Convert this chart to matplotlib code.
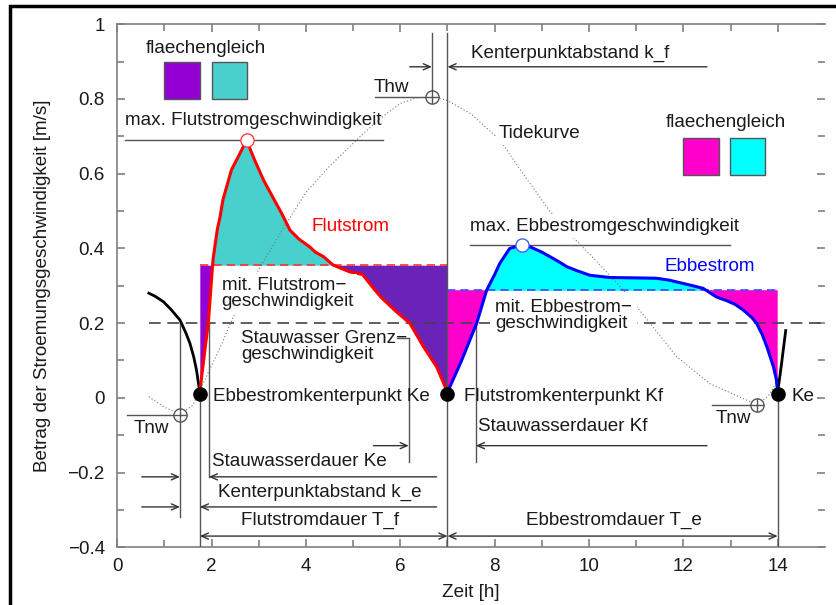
import matplotlib
matplotlib.use("Agg")
import matplotlib.pyplot as plt
from matplotlib.patches import Rectangle
import numpy as np

plt.rcParams['font.family'] = ['Liberation Sans', 'DejaVu Sans']

# Flutstrom (red)
flut_t = [1.75, 1.85, 1.93, 2.03, 2.12, 2.18, 2.24, 2.42, 2.6, 2.74, 2.9, 3.1, 3.31,
          3.5, 3.66, 3.85, 4.08, 4.2, 4.37, 4.58, 4.93, 5.2, 5.45, 5.6, 5.92, 6.2,
          6.49, 6.77, 7.0]
flut_v = [0.015, 0.12, 0.2, 0.37, 0.45, 0.485, 0.53, 0.61, 0.654, 0.69, 0.64, 0.583,
          0.534, 0.49, 0.449, 0.425, 0.404, 0.39, 0.378, 0.355, 0.337, 0.33, 0.29,
          0.268, 0.23, 0.2, 0.137, 0.083, 0.015]

# Ebbestrom (blue)
ebbe_t = [7.0, 7.3, 7.62, 7.83, 8.0, 8.11, 8.32, 8.59, 8.75, 9.0, 9.17, 9.35, 9.53,
          9.75, 10.02, 10.44, 11.0, 11.43, 11.7, 12.0, 12.2, 12.42, 12.7, 12.92, 13.1,
          13.27, 13.45, 13.55, 13.67, 13.77, 13.91, 13.97, 14.0]
ebbe_v = [0.015, 0.1, 0.2, 0.288, 0.33, 0.36, 0.4, 0.409, 0.404, 0.39, 0.378, 0.365,
          0.351, 0.34, 0.328, 0.322, 0.321, 0.32, 0.315, 0.306, 0.3, 0.293, 0.27,
          0.26, 0.25, 0.235, 0.215, 0.2, 0.17, 0.137, 0.083, 0.05, 0.015]

# preceding / following ebb current (black)
vor_t = [0.67, 0.8, 0.98, 1.15, 1.33, 1.45, 1.54, 1.62, 1.68, 1.72, 1.75]
vor_v = [0.28, 0.272, 0.257, 0.235, 0.208, 0.175, 0.146, 0.11, 0.074, 0.04, 0.015]
nach_t = [14.0, 14.08, 14.17]
nach_v = [0.015, 0.09, 0.18]

# Tidekurve (dotted)
tide_t = [0.67, 1.0, 1.33, 1.6, 1.9, 2.2, 2.46, 3.03, 3.5, 4.0, 4.5, 5.22, 5.6, 6.0,
          6.35, 6.67, 6.98, 7.5, 8.11, 8.6, 9.17, 9.74, 10.2, 10.73, 11.29, 11.86,
          12.56, 13.27, 13.57, 13.8, 14.09]
tide_v = [0.003, -0.025, -0.044, -0.02, 0.06, 0.14, 0.217, 0.35, 0.45, 0.55, 0.62,
          0.708, 0.75, 0.788, 0.803, 0.805, 0.797, 0.76, 0.69, 0.6, 0.5, 0.42, 0.36,
          0.288, 0.2, 0.11, 0.038, -0.002, -0.018, 0.005, 0.065]

flut_mittel = 0.355
ebbe_mittel = 0.288
grenz = 0.2
kenter_t = [1.75, 7.0, 14.0]
kenter_v = [0.01, 0.01, 0.01]
tnw = [(1.33, -0.045), (13.57, -0.018)]
thw = (6.67, 0.805)

grey = '#555555'
fs = 13.6

fig = plt.figure(figsize=(8.37, 6.05), dpi=100)
ax = fig.add_axes([0.1401, 0.0954, 0.8454, 0.8646])
ax.set_xlim(0, 15)
ax.set_ylim(-0.4, 1.0)

ft = np.array(flut_t); fv = np.array(flut_v)
et = np.array(ebbe_t); ev = np.array(ebbe_v)

# area fills around the mean velocities
ax.fill_between(ft, fv, flut_mittel, where=fv >= flut_mittel, interpolate=True,
                color='#48d1cc', lw=0, zorder=1)
ax.fill_between(ft, fv, flut_mittel, where=(fv <= flut_mittel) & (ft < 3),
                interpolate=True, color='#9400d3', lw=0, zorder=1)
ax.fill_between(ft, fv, flut_mittel, where=(fv <= flut_mittel) & (ft > 3),
                interpolate=True, color='#6b22b8', lw=0, zorder=1)
ax.fill_between(et, ev, ebbe_mittel, where=ev >= ebbe_mittel, interpolate=True,
                color='#00ffff', lw=0, zorder=1)
ax.fill_between(et, ev, ebbe_mittel, where=ev <= ebbe_mittel, interpolate=True,
                color='#ff00cc', lw=0, zorder=1)
ax.plot([1.75, 7.0], [flut_mittel] * 2, color='#ff3030', lw=1.2, ls=(0, (5, 3)), zorder=2)
ax.plot([7.0, 14.0], [ebbe_mittel] * 2, color='#3050ff', lw=1.2, ls=(0, (5, 3)), zorder=2)

# Stauwasser Grenzgeschwindigkeit
ax.plot([0.67, 15], [grenz, grenz], color='#444444', lw=1.2, ls=(0, (7, 4)), zorder=2)

# Tidekurve
ax.plot(tide_t, tide_v, color='#777777', lw=0.8, ls=(0, (1, 2)), zorder=2)

# current curves
ax.plot(vor_t, vor_v, color='black', lw=2, zorder=4)
ax.plot(nach_t, nach_v, color='black', lw=2, zorder=4)
ax.plot(flut_t, flut_v, color='red', lw=2.2, zorder=4)
ax.plot(ebbe_t, ebbe_v, color='blue', lw=2.2, zorder=4)

# guide lines
def line(xs, ys):
    ax.plot(xs, ys, color=grey, lw=1, zorder=3)

def arrow(x0, x1, y, both=False):
    style = '<->' if both else '->'
    ax.annotate('', xy=(x1, y), xytext=(x0, y),
                arrowprops=dict(arrowstyle=style + ',head_length=0.5,head_width=0.22',
                                color='#333333', lw=1, shrinkA=0, shrinkB=0), zorder=3)

line([7.0, 7.0], [-0.4, 0.976])
line([6.67, 6.67], [0.805, 0.976])
line([1.75, 1.75], [0.01, -0.4])
line([14.0, 14.0], [0.01, -0.4])
line([1.33, 1.33], [0.2, -0.318])
line([1.94, 1.94], [0.2, -0.212])
line([6.18, 6.18], [0.16, -0.171])
line([7.6, 7.6], [0.2, -0.171])
line([0.17, 5.64], [0.69, 0.69])
line([7.48, 12.99], [0.409, 0.409])
line([5.46, 6.67], [0.805, 0.805])
line([0.2, 1.33], [-0.045, -0.045])
line([12.6, 13.57], [-0.018, -0.018])
line([5.92, 6.18], [0.16, 0.16])

arrow(6.2, 6.67, 0.886)
arrow(12.5, 7.0, 0.886)
arrow(5.43, 6.18, -0.128)
arrow(12.5, 7.6, -0.128)
arrow(0.52, 1.33, -0.2115)
arrow(6.77, 1.94, -0.2115)
arrow(0.52, 1.33, -0.292)
arrow(6.77, 1.75, -0.292)
arrow(1.75, 7.0, -0.37, both=True)
arrow(7.0, 14.0, -0.37, both=True)

# markers
ax.plot(kenter_t, kenter_v, 'o', color='black', ms=9.5, zorder=6)
ax.plot([2.74], [0.69], 'o', mfc='white', mec='#ff4040', ms=9.5, mew=1, zorder=6)
ax.plot([8.59], [0.409], 'o', mfc='white', mec='#4060ff', ms=9.5, mew=1, zorder=6)
for px, py in tnw + [thw]:
    ax.plot([px], [py], 'o', mfc='white', mec=grey, ms=9.5, mew=1, zorder=6)
    ax.plot([px], [py], '+', color=grey, ms=9.5, mew=1, zorder=7)

# flaechengleich boxes
boxes = [(1.0, 0.80, '#9400d3'), (2.0, 0.80, '#48d1cc'),
         (12.0, 0.597, '#ff00cc'), (12.99, 0.597, '#00ffff')]
for bx, by, bc in boxes:
    ax.add_patch(Rectangle((bx, by), 0.75, 0.098, fc=bc, ec='#555555', lw=1, zorder=5))

wb = dict(facecolor='white', edgecolor='none', pad=2)

def txt(x, y, s, **kw):
    kw.setdefault('color', '#1a1a1a')
    kw.setdefault('ha', 'left')
    ax.text(x, y, s, fontsize=fs, va='center', zorder=8, **kw)

txt(1.87, 0.935, 'flaechengleich', ha='center')
txt(12.9, 0.736, 'flaechengleich', ha='center')
txt(0.17, 0.743, 'max. Flutstromgeschwindigkeit')
txt(5.43, 0.831, 'Thw')
txt(7.49, 0.922, 'Kenterpunktabstand k_f')
txt(8.08, 0.708, 'Tidekurve', bbox=wb)
txt(7.48, 0.458, 'max. Ebbestromgeschwindigkeit', bbox=wb)
txt(4.12, 0.458, 'Flutstrom', color='red')
txt(11.61, 0.351, 'Ebbestrom', color='blue')
txt(2.21, 0.28, 'mit. Flutstrom\u2212\ngeschwindigkeit', bbox=wb, linespacing=0.95)
txt(2.62, 0.137, 'Stauwasser Grenz\u2212\ngeschwindigkeit', linespacing=0.95)
txt(8.01, 0.22, 'mit. Ebbestrom\u2212\ngeschwindigkeit', bbox=dict(facecolor='white',
    edgecolor='none', pad=4), linespacing=0.95)
txt(2.04, 0.003, 'Ebbestromkenterpunkt Ke')
txt(7.34, 0.003, 'Flutstromkenterpunkt Kf')
txt(14.3, 0.003, 'Ke')
txt(0.34, -0.082, 'Tnw')
txt(12.69, -0.055, 'Tnw')
txt(7.65, -0.078, 'Stauwasserdauer Kf')
txt(2.0, -0.171, 'Stauwasserdauer Ke')
txt(2.14, -0.252, 'Kenterpunktabstand k_e')
txt(2.62, -0.327, 'Flutstromdauer T_f')
txt(8.66, -0.327, 'Ebbestromdauer T_e')

# axes styling
for side in ['left', 'bottom', 'top']:
    ax.spines[side].set_color('#808080')
    ax.spines[side].set_linewidth(1.2)
ax.spines['right'].set_visible(False)
ax.set_xticks(np.arange(0, 15, 2))
ax.set_xticks(np.arange(1, 15, 2), minor=True)
ax.set_yticks(np.arange(-0.4, 1.01, 0.2))
ax.set_yticks(np.arange(-0.3, 1.0, 0.2), minor=True)
ax.set_yticklabels(['\u22120.4', '\u22120.2', '0', '0.2', '0.4', '0.6', '0.8', '1'])
ax.tick_params(which='both', direction='in', top=True, right=True, color='#808080',
               labelsize=fs, labelcolor='#1a1a1a')
ax.tick_params(which='major', length=6, width=1.2)
ax.tick_params(which='minor', length=5, width=1.2)
ax.tick_params(axis='y', pad=9)
ax.tick_params(axis='x', pad=8)
ax.set_xlabel('Zeit [h]', fontsize=fs, color='#1a1a1a', labelpad=6)
ax.set_ylabel('Betrag der Stroemungsgeschwindigkeit [m/s]', fontsize=fs,
              color='#1a1a1a', labelpad=12)

# frame around the figure
fig.add_artist(Rectangle((9.5 / 837, -0.1), 1.2, 1.1 - 6 / 605, transform=fig.transFigure,
                         fill=False, ec='black', lw=2.5))

fig.savefig('out.png', dpi=100)
